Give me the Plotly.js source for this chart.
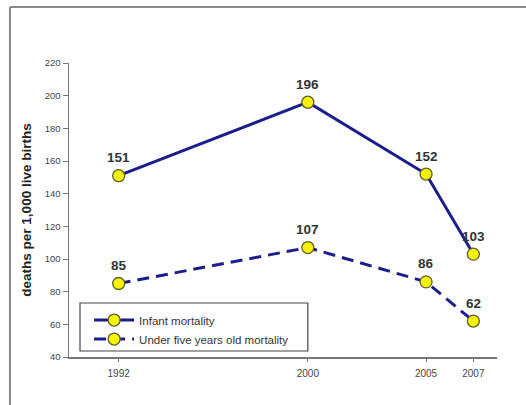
<!DOCTYPE html>
<html>
<head>
<meta charset="utf-8">
<script src="https://cdn.plot.ly/plotly-3.0.1.min.js"></script>
<style>html,body{margin:0;padding:0;background:#fff;}#chart{width:526px;height:405px;}</style>
</head>
<body>
<div id="chart"></div>
<script>
const years = [1992, 2000, 2005, 2007];
const infantMortality = [151, 196, 152, 103];
const underFiveMortality = [85, 107, 86, 62];
const seriesNames = ['Infant mortality', 'Under five years old mortality'];
const yTicks = [40, 60, 80, 100, 120, 140, 160, 180, 200, 220];

const lineColor = '#1c1c8c';
const markerStyle = {size: 12, color: '#f7f20a', line: {color: '#5e5e24', width: 1.3}};
const fontFam = 'Liberation Sans, Arial, sans-serif';
const labelFont = {family: fontFam, size: 13.5, color: '#333333', weight: 'bold'};

const traces = [
  {
    x: years, y: infantMortality, name: seriesNames[0],
    type: 'scatter', mode: 'lines+markers',
    line: {color: lineColor, width: 3},
    marker: markerStyle, cliponaxis: false
  },
  {
    x: years, y: underFiveMortality, name: seriesNames[1],
    type: 'scatter', mode: 'lines+markers',
    line: {color: lineColor, width: 3, dash: '12px,7px'},
    marker: markerStyle, cliponaxis: false
  }
];

const annotations = [];
[infantMortality, underFiveMortality].forEach(series => {
  series.forEach((v, i) => {
    annotations.push({
      x: years[i], y: v, xref: 'x', yref: 'y', text: String(v),
      showarrow: false, yshift: 18, font: labelFont
    });
  });
});

const layout = {
  width: 526, height: 405,
  margin: {l: 69, r: 29, t: 63, b: 48},
  paper_bgcolor: '#ffffff', plot_bgcolor: '#ffffff',
  font: {family: fontFam, color: '#444444'},
  showlegend: true,
  legend: {
    x: 0.047, y: 0.175, xanchor: 'left', yanchor: 'top',
    bgcolor: 'rgba(0,0,0,0)', borderwidth: 0,
    font: {size: 11.5, color: '#333333'},
    itemwidth: 40, tracegroupgap: 0
  },
  xaxis: {
    range: [1989.9, 2008], tickvals: years, ticktext: years.map(String),
    showgrid: false, zeroline: false, showline: true, linecolor: '#777777', linewidth: 1.5,
    ticks: 'outside', ticklen: 3, tickcolor: '#777777',
    tickfont: {size: 10, color: '#444444'}, ticklabelstandoff: 3
  },
  yaxis: {
    range: [40, 220], tickvals: yTicks,
    showgrid: false, zeroline: false, showline: true, linecolor: '#777777', linewidth: 1.5,
    ticks: 'outside', ticklen: 5, tickcolor: '#777777',
    tickfont: {size: 9.5, color: '#444444'},
    title: {text: 'deaths per 1,000 live births', font: {size: 13.5, color: '#222222', weight: 'bold'}, standoff: 10}
  },
  annotations: annotations,
  shapes: [
    {type: 'line', xref: 'paper', yref: 'paper', x0: -0.138, x1: 1.1, y0: 1.1905, y1: 1.1905, line: {color: '#8a8a8a', width: 2}},
    {type: 'line', xref: 'paper', yref: 'paper', x0: -0.138, x1: -0.138, y0: 1.1905, y1: -0.2, line: {color: '#8a8a8a', width: 2}},
    {type: 'rect', xref: 'paper', yref: 'paper', x0: 0.0257, x1: 0.558, y0: 0.0204, y1: 0.1837, layer: 'above', fillcolor: 'rgba(255,255,255,1)', line: {color: '#444444', width: 1.2}}
  ]
};

Plotly.newPlot('chart', traces, layout, {displayModeBar: false, staticPlot: true});
</script>
</body>
</html>
